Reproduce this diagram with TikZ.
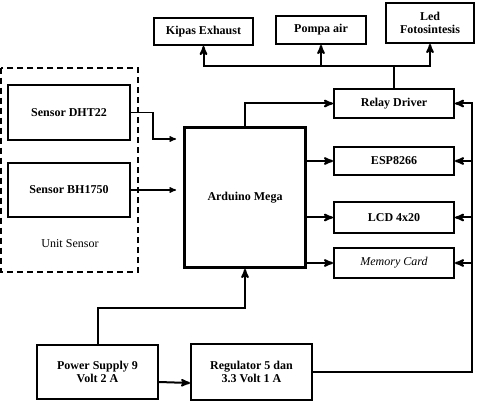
\documentclass[tikz,border=0pt]{standalone}
\usepackage{fontspec}
\setmainfont{Liberation Serif}
\usepackage{tikz}
\usetikzlibrary{calc,arrows}

\begin{document}
\begin{tikzpicture}[x=1pt,y=-1pt,>=stealth',font=\fontsize{12}{13.5}\selectfont\bfseries,
    blok/.style={draw,line width=2pt,anchor=north west,inner sep=0pt,align=center},
    wire/.style={line width=2pt},
    thin wire/.style={line width=1.3pt}]
    \useasboundingbox (0,0) rectangle (477,401);

    % Output blocks
    \node (OUT0) at (153,17) [blok,minimum width=99pt,minimum height=27pt] {Kipas Exhaust};
    \node (OUT1) at (275,15) [blok,minimum width=90pt,minimum height=28pt] {Pompa air};
    \node (OUT2) at (385,2) [blok,minimum width=88pt,minimum height=40pt] {Led\\Fotosintesis};

    % Peripheral blocks
    \node (RELAY) at (333,88) [blok,minimum width=120pt,minimum height=29pt] {Relay Driver};
    \node (ESP) at (333,146) [blok,minimum width=120pt,minimum height=28pt] {ESP8266};
    \node (LCD) at (333,201) [blok,minimum width=120pt,minimum height=31pt] {LCD 4x20};
    \node (MEM) at (333,247) [blok,minimum width=120pt,minimum height=30pt] {\normalfont\itshape Memory Card};

    % Controller
    \node (MCU) at (183,126) [blok,line width=3pt,minimum width=121pt,minimum height=140pt] {Arduino Mega};

    % Sensors
    \node (SEN0) at (7,84) [blok,minimum width=122pt,minimum height=55pt] {Sensor DHT22};
    \node (SEN1) at (7,162) [blok,minimum width=122pt,minimum height=54pt] {Sensor BH1750};
    \draw [line width=1.8pt,dash pattern=on 6pt off 4pt] (1,68) rectangle (138,272);
    \node (UNIT) at (70,244) {\normalfont Unit Sensor};

    % Power
    \node (PSU) at (36,344) [blok,minimum width=121pt,minimum height=54pt] {Power Supply 9\\Volt 2 A};
    \node (REG) at (190,343) [blok,minimum width=121pt,minimum height=56pt] {Regulator 5 dan\\3.3 Volt 1 A};

    % Relay to outputs
    \coordinate (top) at ($ (RELAY.north) + (0,-22) $);
    \draw [wire] (RELAY.north) -- (top);
    \draw [wire,->] (top) -| (OUT0.south);
    \draw [wire,->] (top) -| (OUT1.south);
    \draw [wire,->] (top) -| (OUT2.south);

    % Controller to peripherals
    \draw [wire,->] (MCU.north) |- (RELAY.west);
    \draw [wire,->] (MCU.east |- ESP.west) -- (ESP.west);
    \draw [wire,->] (MCU.east |- LCD.west) -- (LCD.west);
    \draw [wire,->] (MCU.east |- MEM.west) -- (MEM.west);

    % Sensors to controller
    \coordinate (bend) at (153,139);
    \draw [thin wire,->,shorten >=7pt] (SEN0.east) -| (bend) -- (bend -| MCU.west);
    \draw [thin wire,->,shorten >=7pt] (SEN1.east) -- (SEN1.east -| MCU.west);

    % Supply lines
    \coordinate (rbus) at (472,102);
    \draw [wire] (REG.east) -| (rbus);
    \foreach \b in {RELAY,ESP,LCD,MEM}
      \draw [wire,->] (rbus |- \b.east) -- (\b.east);
    \coordinate (pbus) at ($ (MCU.south) + (0,39) $);
    \draw [wire,->] (PSU.north) |- (pbus) -- (MCU.south);
    \draw [wire,->] ($ (PSU.east) + (0,10) $) -- ($ (REG.west) + (0,11) $);
\end{tikzpicture}
\end{document}
